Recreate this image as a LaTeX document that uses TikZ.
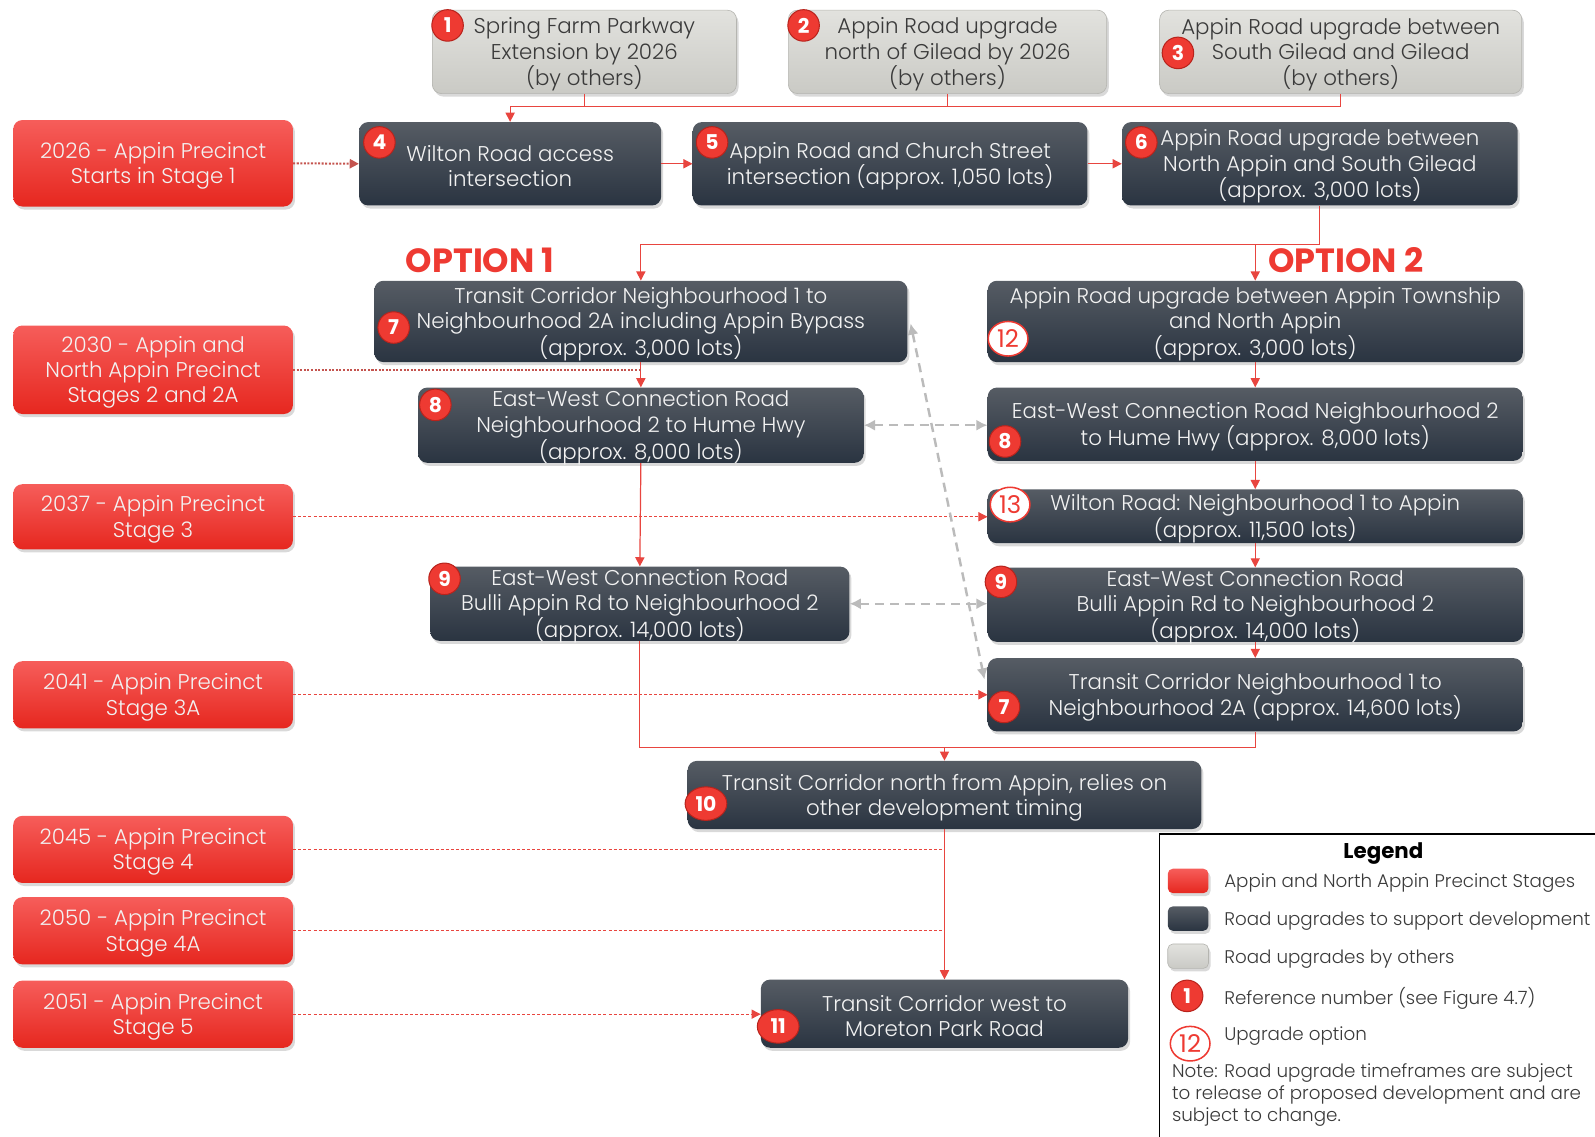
\documentclass[tikz,border=0pt]{standalone}
\usepackage{fontspec}
\setmainfont{Poppins}
\IfFontExistsTF{Poppins Light}{\newfontfamily\lt{Poppins Light}}{\newfontfamily\lt{Poppins}}
\usetikzlibrary{arrows.meta,shadows,shapes.geometric,calc}
\definecolor{dtop}{HTML}{565C64}
\definecolor{dbot}{HTML}{2A3441}
\definecolor{rtop}{HTML}{F65D5A}
\definecolor{rbot}{HTML}{E6271F}
\definecolor{gtop}{HTML}{E2E2DE}
\definecolor{gbot}{HTML}{CACAC5}
\definecolor{gbrd}{HTML}{B5B5B0}
\definecolor{gtext}{HTML}{3A3A3A}
\definecolor{ltext}{HTML}{F2F2F2}
\definecolor{lred}{HTML}{E8453F}
\definecolor{dred}{HTML}{C4544F}
\definecolor{bfill}{HTML}{EE3A32}
\definecolor{bbrd}{HTML}{B8231C}
\definecolor{optred}{HTML}{EE3A32}
\definecolor{dgray}{HTML}{BBBBBB}
\tikzset{
 base/.style={rounded corners=9pt, inner sep=2pt,
   drop shadow={shadow xshift=2pt,shadow yshift=-3pt,opacity=0.3}},
 basetxt/.style={align=center, inner sep=0pt, font=\lt\fontsize{21}{25}\selectfont},
 dbox/.style={base, top color=dtop, bottom color=dbot},
 rbox/.style={base, top color=rtop, bottom color=rbot},
 gbox/.style={base, top color=gtop, bottom color=gbot, draw=gbrd, line width=0.6pt},
 dboxtxt/.style={basetxt, text=ltext},
 rboxtxt/.style={basetxt, text=ltext},
 gboxtxt/.style={basetxt, text=gtext},
 badge/.style={circle, fill=bfill, draw=bbrd, line width=1pt, text=white,
   font=\bfseries\fontsize{20}{20}\selectfont, minimum size=31pt, inner sep=0pt},
 badgew/.style={badge, ellipse, minimum width=41pt, minimum height=33pt},
 obadge/.style={ellipse, fill=white, draw=bfill, line width=1.5pt, text=bfill,
   font=\fontsize{24}{24}\selectfont, minimum width=39pt, minimum height=34pt, inner sep=0pt},
 rl/.style={draw=lred, line width=1.2pt},
 rarr/.style={rl, -{Triangle[length=9pt,width=9pt]}},
 dl/.style={draw=lred, line width=1.1pt, dash pattern=on 3pt off 2pt},
 darr/.style={dl, -{Triangle[length=9pt,width=9pt]}},
 dl2/.style={draw=dred, line width=2pt, dash pattern=on 2pt off 1.5pt},
 gd/.style={draw=dgray, line width=2.4pt, dash pattern=on 9pt off 6pt,
   {Latex[length=11pt,width=11pt]}-{Latex[length=11pt,width=11pt]}},
 legt/.style={anchor=west, text=gtext, font=\lt\fontsize{18}{22}\selectfont},
}
\newcommand\bx[7]{\node[#6, minimum width={#4-#2}, minimum height={#5-#3}] (#1) at ({(#2+#4)/2},{(#3+#5)/2}) {};
\node[#6txt] (#1t) at ({(#2+#4)/2},{(#3+#5)/2+2.5}) {#7};}
\begin{document}
\begin{tikzpicture}[x=1pt,y=-1pt]
\useasboundingbox (0,0) rectangle (1568,1117);
% top grey boxes
\bx{b1}{425}{10}{724}{92}{gbox}{Spring Farm Parkway\\Extension by 2026\\(by others)}
\bx{b2}{775}{10}{1088}{92}{gbox}{Appin Road upgrade\\north of Gilead by 2026\\(by others)}
\bx{b3}{1140}{10}{1496}{92}{gbox}{Appin Road upgrade between\\South Gilead and Gilead\\(by others)}
% row 2
\bx{b4}{353}{120}{650}{202}{dbox}{Wilton Road access\\intersection}
\bx{b5}{681}{120}{1069}{202}{dbox}{Appin Road and Church Street\\intersection (approx. 1,050 lots)}
\bx{b6}{1103}{120}{1492}{202}{dbox}{Appin Road upgrade between\\North Appin and South Gilead\\(approx. 3,000 lots)}
% option 1
\bx{b7a}{368}{276}{892}{356}{dbox}{Transit Corridor Neighbourhood 1 to\\Neighbourhood 2A including Appin Bypass\\(approx. 3,000 lots)}
\bx{b8a}{411}{381}{849}{455}{dbox}{East-West Connection Road\\Neighbourhood 2 to Hume Hwy\\(approx. 8,000 lots)}
\bx{b9a}{423}{557}{835}{630}{dbox}{East-West Connection Road\\Bulli Appin Rd to Neighbourhood 2\\(approx. 14,000 lots)}
% option 2
\bx{b12}{971}{276}{1497}{356}{dbox}{Appin Road upgrade between Appin Township\\and North Appin\\(approx. 3,000 lots)}
\bx{b8b}{971}{381}{1497}{453}{dbox}{East-West Connection Road Neighbourhood 2\\to Hume Hwy (approx. 8,000 lots)}
\bx{b13}{971}{481}{1497}{534}{dbox}{Wilton Road: Neighbourhood 1 to Appin\\(approx. 11,500 lots)}
\bx{b9b}{971}{558}{1497}{631}{dbox}{East-West Connection Road\\Bulli Appin Rd to Neighbourhood 2\\(approx. 14,000 lots)}
\bx{b7b}{971}{647}{1497}{719}{dbox}{Transit Corridor Neighbourhood 1 to\\Neighbourhood 2A (approx. 14,600 lots)}
% bottom
\bx{b10}{676}{748}{1181}{815}{dbox}{Transit Corridor north from Appin, relies on\\other development timing}
\bx{b11}{748}{963}{1109}{1030}{dbox}{Transit Corridor west to\\Moreton Park Road}
% red stage boxes
\bx{r1}{13}{118}{288}{203}{rbox}{2026 - Appin Precinct\\Starts in Stage 1}
\bx{r2}{13}{320}{288}{407}{rbox}{2030 - Appin and\\North Appin Precinct\\Stages 2 and 2A}
\bx{r3}{13}{476}{288}{540}{rbox}{2037 - Appin Precinct\\Stage 3}
\bx{r4}{13}{650}{288}{716}{rbox}{2041 - Appin Precinct\\Stage 3A}
\bx{r5}{13}{802}{288}{868}{rbox}{2045 - Appin Precinct\\Stage 4}
\bx{r6}{13}{882}{288}{948}{rbox}{2050 - Appin Precinct\\Stage 4A}
\bx{r7}{13}{964}{288}{1030}{rbox}{2051 - Appin Precinct\\Stage 5}
% option labels
\node[text=optred, font=\bfseries\fontsize{33}{33}\selectfont] (o1) at (472,256) {OPTION 1};
\node[text=optred, font=\bfseries\fontsize{33}{33}\selectfont] (o2) at (1323,256) {OPTION 2};
% connectors top
\coordinate (jt) at (1318,105);
\draw[rl] (b1.south) -- (b1.south |- jt);
\draw[rl] (b2.south) -- (b2.south |- jt);
\draw[rl] (b3.south) -- (b3.south |- jt) -- (b4.north |- jt);
\draw[rarr] (b4.north |- jt) -- (b4.north);
\draw[rarr] (b4.east) -- (b5.west);
\draw[rarr] (b5.east) -- (b6.west);
\draw[dl2, -{Triangle[length=9pt,width=9pt]}] (r1.east) -- (b4.west);
% options split
\coordinate (jo) at (630,240);
\draw[rl] (b6.south) -- (b6.south |- jo) -- (jo);
\draw[rarr] (jo) -- (b7a.north);
\draw[rarr] (b12.north |- jo) -- (b12.north);
% option 1 chain
\draw[rarr] (b7a.south) -- (b8a.north);
\draw[rarr] (b8a.south) -- (b9a.north);
\draw[dl2] (r2.east) -- (r2.east -| b7a.south);
% option 2 chain
\draw[rarr] (b12.south) -- (b8b.north);
\draw[rarr] (b8b.south) -- (b13.north);
\draw[rarr] (b13.south) -- (b9b.north);
\draw[rarr] (b9b.south) -- (b7b.north);
\draw[darr] (r3.east) -- (r3.east -| b13.west);
\draw[darr] (r4.east) -- (r4.east -| b7b.west);
% grey dashed links
\draw[gd] (b8a.east) -- (b8a.east -| b8b.west);
\draw[gd] (b9a.east) -- (b9a.east -| b9b.west);
\draw[gd] ($(b7a.east)+(3,2)$) -- ($(b7b.west)+(-3,-15)$);
% merge to 10
\coordinate (jb) at (928.5,735);
\draw[rl] (b9a.south) -- (b9a.south |- jb) -- (b7b.south |- jb) -- (b7b.south);
\draw[rarr] (jb) -- (b10.north);
\draw[rarr] (b10.south) -- (b11.north);
\draw[dl] (r5.east) -- (r5.east -| b10.south);
\draw[dl] (r6.east) -- (r6.east -| b10.south);
\draw[darr] (r7.east) -- (r7.east -| b11.west);
% badges
\node[badge] (n1) at (440,25) {1};
\node[badge] (n2) at (790,25) {2};
\node[badge] (n3) at (1158,52) {3};
\node[badge] (n4) at (373,140) {4};
\node[badge] (n5) at (700,140) {5};
\node[badge] (n6) at (1122,140) {6};
\node[badge] (n7a) at (387,322) {7};
\node[badge] (n8a) at (428,398) {8};
\node[badge] (n9a) at (437,569) {9};
\node[obadge] (n12) at (991,333) {12};
\node[badge] (n8b) at (988,434) {8};
\node[obadge] (n13) at (993,496) {13};
\node[badge] (n9b) at (984,572) {9};
\node[badge] (n7b) at (987,695) {7};
\node[badgew] (n10) at (694,790) {10};
\node[badgew] (n11) at (765,1009) {11};
% legend
\draw[black, line width=1.5pt] (1140,1130) -- (1140,820) -- (1580,820);
\node[font=\bfseries\fontsize{21}{21}\selectfont, text=black] (lt) at (1360,839) {Legend};
\node[rbox, minimum width=40, minimum height=24, rounded corners=5pt] (lr) at (1168,866) {};
\node[dbox, minimum width=40, minimum height=24, rounded corners=5pt] (ld) at (1168,903) {};
\node[gbox, minimum width=40, minimum height=24, rounded corners=5pt] (lg) at (1168,940) {};
\node[badge] (lb) at (1167,979) {1};
\node[obadge] (lo) at (1170,1026) {12};
\node[legt] (t1) at (1200,868) {Appin and North Appin Precinct Stages};
\node[legt] (t2) at (1200,906) {Road upgrades to support development};
\node[legt] (t3) at (1200,943) {Road upgrades by others};
\node[legt] (t4) at (1200,981) {Reference number (see Figure 4.7)};
\node[legt] (t5) at (1200,1019) {Upgrade option};
\node[anchor=north west, align=left, text=gtext, font=\lt\fontsize{18}{22}\selectfont, inner sep=0pt] (note) at (1152,1045) {Note: Road upgrade timeframes are subject\\to release of proposed development and are\\subject to change.};
\end{tikzpicture}
\end{document}
